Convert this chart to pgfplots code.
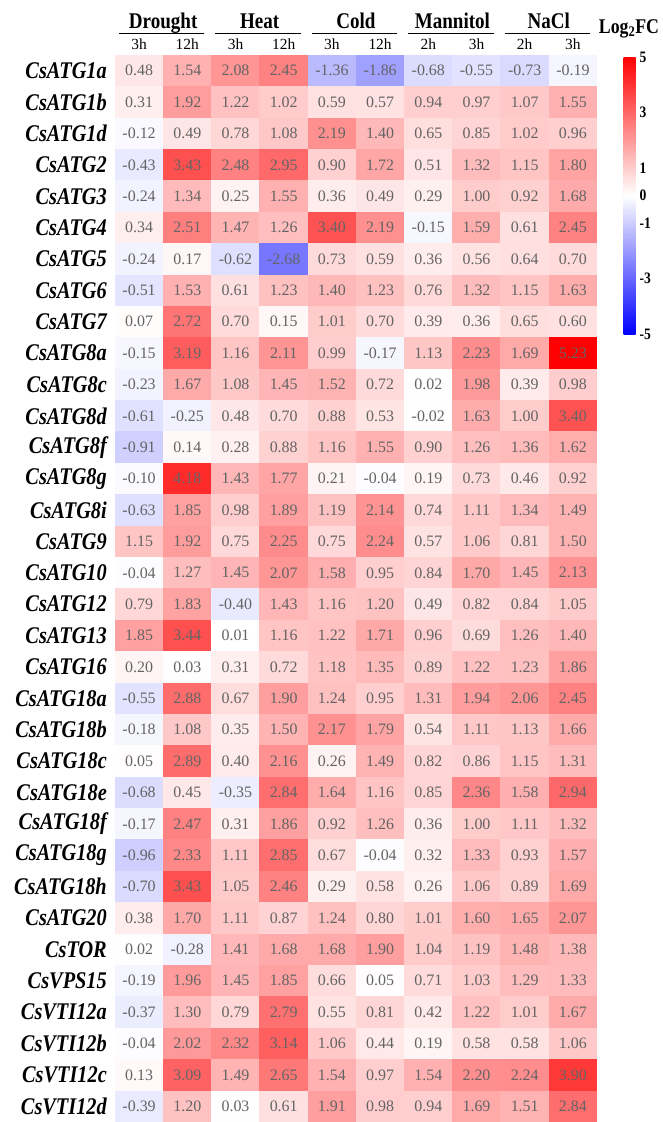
\documentclass[border=0pt]{standalone}
\usepackage{fontspec}
\setmainfont{Liberation Serif}[FakeStretch=0.85]
\newfontfamily\numfont{Liberation Serif}
\usepackage{pgfplots}
\pgfplotsset{compat=1.18}
\usepackage{pgfplotstable}
\definecolor{celltext}{RGB}{100,100,100}

% columns: c0 Drought 3h, c1 Drought 12h, c2 Heat 3h, c3 Heat 12h, c4 Cold 3h,
% c5 Cold 12h, c6 Mannitol 2h, c7 Mannitol 3h, c8 NaCl 2h, c9 NaCl 3h
\pgfplotstableread{
gene c0 c1 c2 c3 c4 c5 c6 c7 c8 c9
CsATG1a 0.48 1.54 2.08 2.45 -1.36 -1.86 -0.68 -0.55 -0.73 -0.19
CsATG1b 0.31 1.92 1.22 1.02 0.59 0.57 0.94 0.97 1.07 1.55
CsATG1d -0.12 0.49 0.78 1.08 2.19 1.40 0.65 0.85 1.02 0.96
CsATG2 -0.43 3.43 2.48 2.95 0.90 1.72 0.51 1.32 1.15 1.80
CsATG3 -0.24 1.34 0.25 1.55 0.36 0.49 0.29 1.00 0.92 1.68
CsATG4 0.34 2.51 1.47 1.26 3.40 2.19 -0.15 1.59 0.61 2.45
CsATG5 -0.24 0.17 -0.62 -2.68 0.73 0.59 0.36 0.56 0.64 0.70
CsATG6 -0.51 1.53 0.61 1.23 1.40 1.23 0.76 1.32 1.15 1.63
CsATG7 0.07 2.72 0.70 0.15 1.01 0.70 0.39 0.36 0.65 0.60
CsATG8a -0.15 3.19 1.16 2.11 0.99 -0.17 1.13 2.23 1.69 5.23
CsATG8c -0.23 1.67 1.08 1.45 1.52 0.72 0.02 1.98 0.39 0.98
CsATG8d -0.61 -0.25 0.48 0.70 0.88 0.53 -0.02 1.63 1.00 3.40
CsATG8f -0.91 0.14 0.28 0.88 1.16 1.55 0.90 1.26 1.36 1.62
CsATG8g -0.10 4.18 1.43 1.77 0.21 -0.04 0.19 0.73 0.46 0.92
CsATG8i -0.63 1.85 0.98 1.89 1.19 2.14 0.74 1.11 1.34 1.49
CsATG9 1.15 1.92 0.75 2.25 0.75 2.24 0.57 1.06 0.81 1.50
CsATG10 -0.04 1.27 1.45 2.07 1.58 0.95 0.84 1.70 1.45 2.13
CsATG12 0.79 1.83 -0.40 1.43 1.16 1.20 0.49 0.82 0.84 1.05
CsATG13 1.85 3.44 0.01 1.16 1.22 1.71 0.96 0.69 1.26 1.40
CsATG16 0.20 0.03 0.31 0.72 1.18 1.35 0.89 1.22 1.23 1.86
CsATG18a -0.55 2.88 0.67 1.90 1.24 0.95 1.31 1.94 2.06 2.45
CsATG18b -0.18 1.08 0.35 1.50 2.17 1.79 0.54 1.11 1.13 1.66
CsATG18c 0.05 2.89 0.40 2.16 0.26 1.49 0.82 0.86 1.15 1.31
CsATG18e -0.68 0.45 -0.35 2.84 1.64 1.16 0.85 2.36 1.58 2.94
CsATG18f -0.17 2.47 0.31 1.86 0.92 1.26 0.36 1.00 1.11 1.32
CsATG18g -0.96 2.33 1.11 2.85 0.67 -0.04 0.32 1.33 0.93 1.57
CsATG18h -0.70 3.43 1.05 2.46 0.29 0.58 0.26 1.06 0.89 1.69
CsATG20 0.38 1.70 1.11 0.87 1.24 0.80 1.01 1.60 1.65 2.07
CsTOR 0.02 -0.28 1.41 1.68 1.68 1.90 1.04 1.19 1.48 1.38
CsVPS15 -0.19 1.96 1.45 1.85 0.66 0.05 0.71 1.03 1.29 1.33
CsVTI12a -0.37 1.30 0.79 2.79 0.55 0.81 0.42 1.22 1.01 1.67
CsVTI12b -0.04 2.02 2.32 3.14 1.06 0.44 0.19 0.58 0.58 1.06
CsVTI12c 0.13 3.09 1.49 2.65 1.54 0.97 1.54 2.20 2.24 3.90
CsVTI12d -0.39 1.20 0.03 0.61 1.91 0.98 0.94 1.69 1.51 2.84
}\fc

\pgfdeclareplotmark{cell}{%
  \pgfpathrectangle{\pgfpoint{-24.3bp}{-15.8bp}}{\pgfpoint{48.6bp}{31.6bp}}%
  \pgfusepathqfill}

\begin{document}
\begin{tikzpicture}[x=1bp,y=1bp]
\useasboundingbox (0,0) rectangle (663,-1122);
\begin{axis}[
  at={(115bp,-55bp)}, anchor=north west,
  scale only axis, width=482bp, height=1067bp,
  xmin=-0.5, xmax=9.5, ymin=-0.5, ymax=33.5, y dir=reverse,
  axis line style={draw=none}, major tick length=0pt,
  clip=false,
  xtick={0,...,9},
  xticklabels={3h,12h,3h,12h,3h,12h,2h,3h,2h,3h},
  xticklabel pos=upper,
  xticklabel style={font=\numfont\fontsize{15.5}{15.5}\selectfont, anchor=base, inner sep=0pt, yshift=6bp},
  ytick={0,...,33},
  yticklabels from table={\fc}{gene},
  yticklabel style={font=\bfseries\itshape\fontsize{24}{24}\selectfont, anchor=east, inner sep=0pt, xshift=-8bp},
  colormap={bwr}{rgb255=(0,0,255) rgb255=(255,255,255) rgb255=(255,0,0)},
  point meta min=-5, point meta max=5,
  colorbar,
  colorbar style={
    at={(parent axis.north east)}, anchor=north west, xshift=18bp, yshift=-2bp,
    scale only axis, width=12bp, height=277bp,
    axis line style={draw=none}, major tick length=0pt,
    ytick={-5,-3,-1,0,1,3,5}, yticklabels={-5,-3,-1,0,1,3,5},
    yticklabel style={font=\bfseries\fontsize{16}{16}\selectfont, inner sep=0pt, xshift=4bp},
  },
]
% coloured cells
\pgfplotsinvokeforeach{0,...,9}{
\addplot[scatter, only marks, mark=cell,
  scatter/use mapped color={draw=none, fill=mapped color},
  point meta=explicit]
  table[x expr={#1}, y expr={\coordindex}, meta=c#1] {\fc};
}
% values written in the cells
\pgfplotsinvokeforeach{0,...,9}{
\addplot[draw=none, mark=none, point meta=explicit,
  nodes near coords={\numfont\fontsize{16}{16}\selectfont\pgfmathprintnumber[fixed, fixed zerofill, precision=2, assume math mode=true]{\pgfplotspointmeta}},
  nodes near coords align={center},
  every node near coord/.append style={text=celltext, anchor=center, inner sep=0pt}]
  table[x expr={#1}, y expr={\coordindex}, meta=c#1] {\fc};
}
% group headers
\foreach \c/\g in {0.5/Drought,2.5/Heat,4.5/Cold,6.5/Mannitol,8.5/NaCl}{
  \edef\tmp{\noexpand\node[anchor=base, font=\noexpand\bfseries\noexpand\fontsize{22.5}{22.5}\noexpand\selectfont, inner sep=0pt] at ([yshift=27bp]axis cs:\c,-0.5) {\g};}\tmp
  \edef\tmp{\noexpand\draw[line width=1.8bp] ([xshift=4bp,yshift=21.5bp]axis cs:\c-1,-0.5) -- ([xshift=-7bp,yshift=21.5bp]axis cs:\c+1,-0.5);}\tmp
}
\end{axis}
\node[anchor=base, font=\bfseries\fontsize{21}{21}\selectfont, inner sep=0pt] at (629,-33) {Log\textsubscript{2}FC};
\end{tikzpicture}
\end{document}
